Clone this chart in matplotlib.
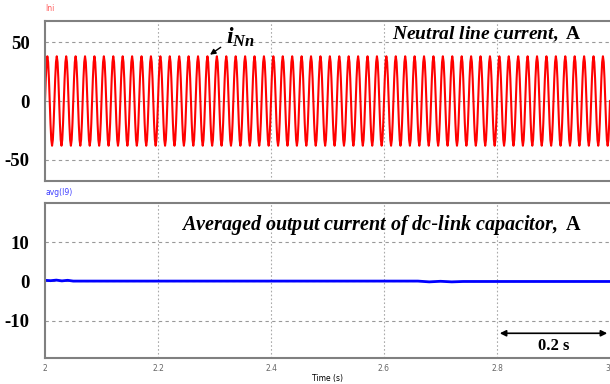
import numpy as np
import matplotlib.pyplot as plt

plt.rcParams['mathtext.fontset'] = 'custom'
plt.rcParams['mathtext.rm'] = 'Liberation Serif'
plt.rcParams['mathtext.it'] = 'Liberation Serif:italic'
plt.rcParams['mathtext.bf'] = 'Liberation Serif:bold'
plt.rcParams['mathtext.bfit'] = 'Liberation Serif:bold:italic'

# one cycle of the neutral line current (A), 60 Hz
cycle_iNn = [0., 19., 33., 38., 33., 19., 0., -19., -33., -38., -33., -19.]
n_cycles = 60
t_start, t_end = 2.0, 3.0

# averaged dc-link capacitor current (A)
t_avg = [2.0, 2.01, 2.02, 2.03, 2.04, 2.05, 2.2, 2.4, 2.6, 2.66, 2.68, 2.70, 2.72, 2.74, 2.8, 3.0]
i_avg = [0.3, 0.2, 0.35, 0.15, 0.3, 0.1, 0.1, 0.1, 0.1, 0.1, -0.1, 0.05, -0.1, 0.0, 0.0, 0.0]

x_ticks = [2, 2.2, 2.4, 2.6, 2.8, 3]
x_labels = ['2', '2.2', '2.4', '2.6', '2.8', '3']
top_ticks = [-50, 0, 50]
bot_ticks = [-10, 0, 10]

i_nn = np.tile(cycle_iNn, n_cycles)
i_nn = np.append(i_nn, cycle_iNn[0])
t_nn = np.linspace(t_start, t_end, len(i_nn))

fig = plt.figure(figsize=(6.1, 3.84), dpi=100)
ax1 = fig.add_axes([45/610, 1-181/384, 565/610, 160/384])
ax2 = fig.add_axes([45/610, 1-358/384, 565/610, 155/384])

serif = 'Liberation Serif'

for ax in (ax1, ax2):
    ax.set_xlim(t_start, t_end)
    ax.set_xticks(x_ticks)
    for s in ['top', 'left', 'bottom']:
        ax.spines[s].set_color('#808080')
        ax.spines[s].set_linewidth(1.5)
    ax.spines['right'].set_visible(False)
    ax.tick_params(axis='both', length=0)
    ax.tick_params(axis='y', pad=11)
    for x in x_ticks[1:-1]:
        ax.axvline(x, color='#aaaaaa', ls=(0, (1.5, 2)), lw=0.8, zorder=0)

ax1.plot(t_nn, i_nn, color='#ff0000', lw=1.5)
ax1.set_ylim(-68, 68)
ax1.set_yticks(top_ticks)
ax1.set_yticklabels(['-50', '0', '50'], fontfamily=serif, fontweight='bold', fontsize=13.5)
for y in top_ticks:
    ax1.axhline(y, color='#999999', ls=(0, (3, 3)), lw=0.8, zorder=0)
ax1.set_xticklabels([])
ax1.text(0.0, 1.06, 'Ini', transform=ax1.transAxes, color='#ff6060', fontsize=5.5)
ax1.text(0.95, 0.92, r'$\mathbfit{Neutral\ line\ current,}\ \mathbf{A}$',
         transform=ax1.transAxes, ha='right', va='center', fontsize=14)
ax1.annotate('', xy=(2.288, 38), xytext=(2.315, 47),
             arrowprops=dict(arrowstyle='-|>', color='black', lw=1, mutation_scale=8))
ax1.text(2.321, 54, r'$\mathbfit{i}_{\mathbfit{Nn}}$', fontsize=17,
         ha='left', va='center')

ax2.plot(t_avg, i_avg, color='#0000ff', lw=2)
ax2.set_ylim(-19.5, 20)
ax2.set_yticks(bot_ticks)
ax2.set_yticklabels(['-10', '0', '10'], fontfamily=serif, fontweight='bold', fontsize=13.5)
for y in bot_ticks:
    ax2.axhline(y, color='#999999', ls=(0, (3, 3)), lw=0.8, zorder=0)
ax2.set_xticklabels(x_labels, fontsize=5.5, color='#666666')
ax2.get_xticklabels()[-1].set_ha('right')
ax2.tick_params(axis='x', pad=4)
ax2.set_xlabel('Time (s)', fontsize=5.5, labelpad=1)
ax2.text(0.0, 1.05, 'avg(I9)', transform=ax2.transAxes, color='#4040ff', fontsize=5.5)
ax2.text(0.95, 0.858, r'$\mathbfit{Averaged\ output\ current\ of\ dc}$-$\mathbfit{link\ capacitor,}\ \mathbf{A}$',
         transform=ax2.transAxes, ha='right', va='center', fontsize=14.5)
ax2.annotate('', xy=(2.8, -13.2), xytext=(3.0, -13.2),
             arrowprops=dict(arrowstyle='<|-|>', color='black', lw=1.2, mutation_scale=9))
ax2.text(2.9, -16.5, '0.2 s', fontsize=12, fontfamily=serif, fontweight='bold',
         ha='center', va='center')

fig.savefig('out.png', dpi=100)
